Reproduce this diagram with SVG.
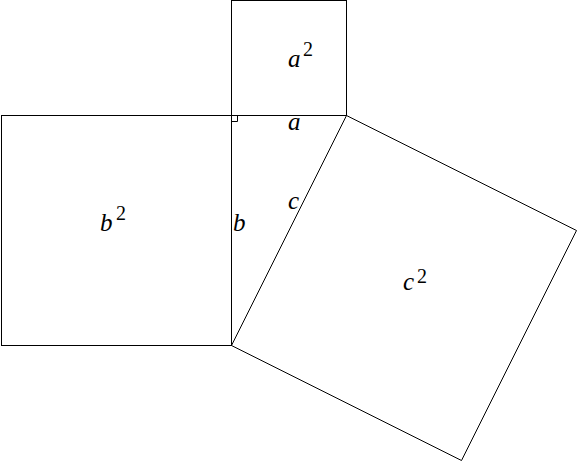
<svg xmlns="http://www.w3.org/2000/svg" width="577" height="462" viewBox="0 0 577 462">
<style>
.sq{fill:none;stroke:#000;stroke-width:1}
.t{font-family:"Liberation Serif","Times New Roman",serif;font-style:italic;font-size:25px;fill:#000}
.s{font-family:"Liberation Serif","Times New Roman",serif;font-size:20px;fill:#000}
</style>
<rect width="577" height="462" fill="#fff"/>
<g id="square-a"><rect class="sq" x="231.5" y="0.5" width="115" height="115"/>
<text class="t" x="288" y="67">a</text><text class="s" x="303" y="56">2</text></g>
<g id="square-b"><rect class="sq" x="1.5" y="115.5" width="230" height="230"/>
<text class="t" x="100" y="231">b</text><text class="s" x="116" y="220">2</text></g>
<g id="square-c"><polygon class="sq" points="346.5,115.5 231.5,345.5 461.5,460.5 576.5,230.5"/>
<text class="t" x="403" y="290">c</text><text class="s" x="417" y="283">2</text></g>
<g id="connectors">
<polyline class="sq" points="231.5,121.5 237.5,121.5 237.5,115.5"/>
</g>
<g id="labels">
<text class="t" x="288" y="130">a</text>
<text class="t" x="233" y="231">b</text>
<text class="t" x="288" y="209">c</text>
</g>
</svg>
